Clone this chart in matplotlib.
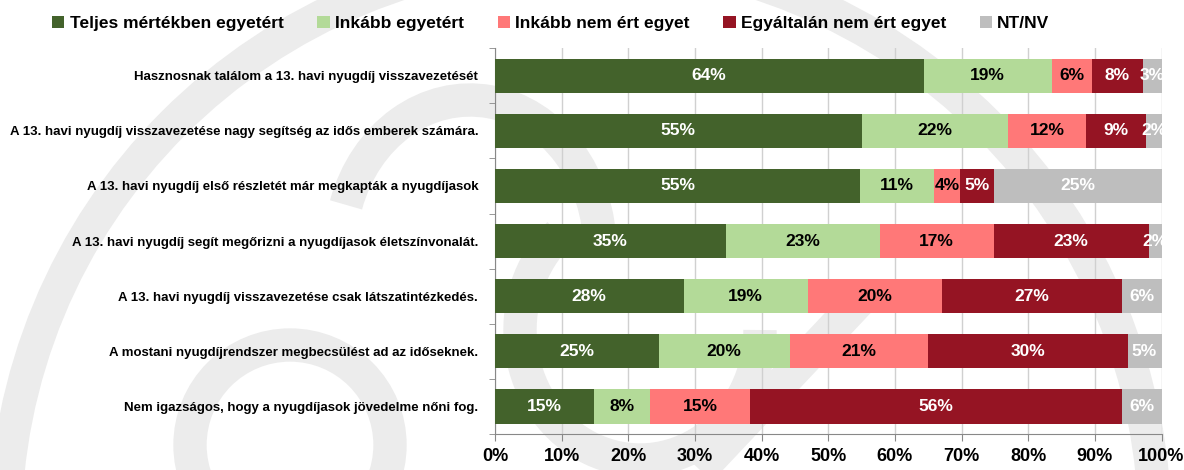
import matplotlib
matplotlib.use("Agg")
import matplotlib.pyplot as plt
from matplotlib.patches import Arc, Circle
import numpy as np

plt.rcParams['font.family'] = ['Liberation Sans', 'DejaVu Sans']

categories = [
    "Hasznosnak találom a 13. havi nyugdíj visszavezetését",
    "A 13. havi nyugdíj visszavezetése nagy segítség az idős emberek számára.",
    "A 13. havi nyugdíj első részletét már megkapták a nyugdíjasok",
    "A 13. havi nyugdíj segít megőrizni a nyugdíjasok életszínvonalát.",
    "A 13. havi nyugdíj visszavezetése csak látszatintézkedés.",
    "A mostani nyugdíjrendszer megbecsülést ad az időseknek.",
    "Nem igazságos, hogy a nyugdíjasok jövedelme nőni fog.",
]
series_names = ["Teljes mértékben egyetért", "Inkább egyetért",
                "Inkább nem ért egyet", "Egyáltalán nem ért egyet", "NT/NV"]
teljes = [64.3, 55.0, 54.8, 34.6, 28.3, 24.6, 14.9]
inkabb = [19.2, 22.0, 11.0, 23.1, 18.6, 19.6, 8.4]
inkabb_nem = [6.0, 11.7, 4.0, 17.1, 20.1, 20.8, 15.0]
egyaltalan = [7.7, 9.0, 5.1, 23.3, 27.1, 29.9, 55.7]
ntnv = [2.8, 2.3, 25.1, 1.9, 5.9, 5.1, 6.0]
xticks = [0, 10, 20, 30, 40, 50, 60, 70, 80, 90, 100]

colors = ["#43622B", "#B3DA98", "#FF7878", "#951423", "#BEBEBE"]
text_colors = ["white", "black", "black", "white", "white"]

fig = plt.figure(figsize=(11.84, 4.70), dpi=100)

# watermark (logo) in background
bg = fig.add_axes([0, 0, 1, 1], zorder=0)
bg.set_xlim(0, 1184)
bg.set_ylim(470, 0)
bg.axis("off")
wm = "#ececec"
bg.add_patch(Circle((580, 530), 575, fill=False, ec=wm, lw=24))
bg.add_patch(Circle((290, 445), 100, fill=False, ec=wm, lw=24))
bg.add_patch(Arc((640, 330), 240, 260, theta1=0, theta2=230, color=wm, lw=24))
bg.add_patch(Arc((470, 250), 260, 300, theta1=200, theta2=360, color=wm, lw=24))
bg.plot([700, 860], [470, 300], color=wm, lw=24, solid_capstyle="butt")

ax = fig.add_axes([0.418, 0.0766, 0.563, 0.821], zorder=1)
ax.patch.set_alpha(0)

data = [teljes, inkabb, inkabb_nem, egyaltalan, ntnv]
y = np.arange(len(categories))
left = np.zeros(len(categories))
for i, vals in enumerate(data):
    vals = np.array(vals)
    ax.barh(y, vals, left=left, height=0.62, color=colors[i],
            label=series_names[i], zorder=3)
    for yy, l, v in zip(y, left, vals):
        ax.text(l + v / 2, yy, f"{round(v):.0f}%", ha="center", va="center",
                color=text_colors[i], fontsize=12.5, fontweight="bold", zorder=4)
    left += vals

ax.set_xlim(0, 100)
ax.set_ylim(len(categories) - 0.5, -0.5)
ax.set_xticks(xticks)
ax.set_xticklabels([f"{t}%" for t in xticks], fontsize=13, fontweight="bold")
ax.set_yticks(y)
ax.set_yticklabels(categories, fontsize=9.5, fontweight="bold")
ax.tick_params(axis="y", length=0, pad=12)
ax.set_yticks(np.arange(len(categories) + 1) - 0.5, minor=True)
ax.tick_params(axis="y", which="minor", length=4, color="#888888")
ax.tick_params(axis="x", length=5, color="#888888", pad=5)
ax.grid(axis="x", color="#d0d0d0", lw=1, zorder=0)
for s in ["top", "right"]:
    ax.spines[s].set_visible(False)
for s in ["left", "bottom"]:
    ax.spines[s].set_color("#888888")

fig.legend(loc="upper left", bbox_to_anchor=(0.031, 1.0), ncol=5,
           frameon=False, handlelength=0.7, handleheight=0.7,
           handletextpad=0.3, columnspacing=1.95,
           prop={"size": 12.5, "weight": "bold"})

fig.savefig("out.png", dpi=100)
